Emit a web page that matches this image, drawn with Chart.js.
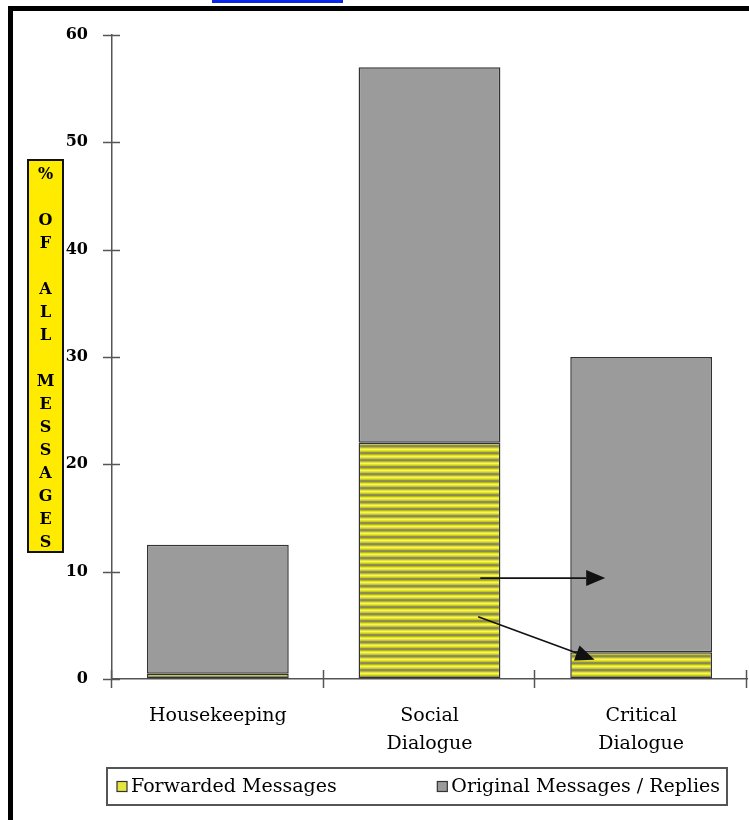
<!DOCTYPE html>
<html>
<head>
<meta charset="utf-8">
<script src="https://cdn.jsdelivr.net/npm/chart.js@4.4.1/dist/chart.umd.min.js"></script>
<style>
  html, body { margin: 0; padding: 0; background: #ffffff; }
  #wrap { width: 749px; height: 820px; position: relative; }
</style>
</head>
<body>
<div id="wrap"><canvas id="c" width="749" height="820"></canvas></div>
<script>
// Message categories and share of all messages (%)
const categories = ['Housekeeping', ['Social', 'Dialogue'], ['Critical', 'Dialogue']];
const forwarded = [0.5, 22, 2.5];
const original = [12, 35, 27.5];
const seriesNames = ['Forwarded Messages', 'Original Messages / Replies'];
const yTicks = [0, 10, 20, 30, 40, 50, 60];
const yTitleWords = ['%', 'OF', 'ALL', 'MESSAGES'];

// Annotation arrows in data units: [fromCategory, fromValue, toCategory, toValue]
const arrows = [
  [1.24, 9.4, 1.83, 9.4],
  [1.23, 5.8, 1.78, 1.8]
];

// Horizontal stripe fill for the forwarded series
function stripePattern() {
  const c = document.createElement('canvas');
  c.width = 8; c.height = 7;
  const g = c.getContext('2d');
  const rows = ['#e6e610', '#f2f27a', '#e6e610', '#c4c436', '#8e8e58', '#8a8a50', '#b4b43a'];
  rows.forEach((col, i) => { g.fillStyle = col; g.fillRect(0, i, 8, 1); });
  return g.createPattern(c, 'repeat');
}

const ctxMain = document.getElementById('c').getContext('2d');
const stripes = stripePattern();
const GRAY = '#9b9b9b';

const decor = {
  id: 'decor',
  beforeDraw(chart) {
    const ctx = chart.ctx;
    ctx.save();
    ctx.fillStyle = '#ffffff';
    ctx.fillRect(0, 0, chart.width, chart.height);
    // frame (top + left) and blue rule
    ctx.fillStyle = '#000000';
    ctx.fillRect(8, 6, chart.width - 8, 5);
    ctx.fillRect(8, 6, 5, chart.height - 6);
    ctx.fillStyle = '#0a26e8';
    ctx.fillRect(212, 0, 131, 3);
    ctx.restore();
  },
  afterDraw(chart) {
    const ctx = chart.ctx;
    const xs = chart.scales.x, ys = chart.scales.y;
    ctx.save();

    // tick marks crossing the axes
    ctx.strokeStyle = '#555555';
    ctx.lineWidth = 1.5;
    yTicks.forEach(v => {
      const py = Math.round(ys.getPixelForValue(v)) + 0.5;
      ctx.beginPath(); ctx.moveTo(xs.left - 9, py); ctx.lineTo(xs.left + 8, py); ctx.stroke();
    });
    const n = categories.length;
    const w = (xs.right - xs.left) / n;
    for (let i = 0; i <= n; i++) {
      const px = Math.round(xs.left + i * w) - 0.5;
      ctx.beginPath(); ctx.moveTo(px, ys.bottom - 9); ctx.lineTo(px, ys.bottom + 9); ctx.stroke();
    }

    // arrows
    ctx.strokeStyle = '#111111';
    ctx.fillStyle = '#111111';
    ctx.lineWidth = 1.6;
    const xpix = c => xs.left + (c + 0.5) * w;
    arrows.forEach(([c0, v0, c1, v1]) => {
      const x0 = xpix(c0), y0 = ys.getPixelForValue(v0);
      const x1 = xpix(c1), y1 = ys.getPixelForValue(v1);
      const a = Math.atan2(y1 - y0, x1 - x0);
      const hl = 19, hw = 8;
      const bx = x1 - hl * Math.cos(a), by = y1 - hl * Math.sin(a);
      ctx.beginPath(); ctx.moveTo(x0, y0); ctx.lineTo(bx, by); ctx.stroke();
      ctx.beginPath();
      ctx.moveTo(x1, y1);
      ctx.lineTo(bx + hw * Math.sin(a), by - hw * Math.cos(a));
      ctx.lineTo(bx - hw * Math.sin(a), by + hw * Math.cos(a));
      ctx.closePath(); ctx.fill();
    });

    // vertical axis title in a yellow box
    ctx.fillStyle = '#ffeb00';
    ctx.fillRect(28, 160, 35, 392);
    ctx.strokeStyle = '#111111';
    ctx.lineWidth = 2;
    ctx.strokeRect(28, 160, 35, 392);
    const lines = [];
    yTitleWords.forEach((wd, i) => { if (i) lines.push(''); wd.split('').forEach(ch => lines.push(ch)); });
    ctx.fillStyle = '#000000';
    ctx.font = 'bold 16px "DejaVu Serif"';
    ctx.textAlign = 'center';
    ctx.textBaseline = 'middle';
    lines.forEach((ch, i) => { if (ch) ctx.fillText(ch, 45.5, 175 + i * 23); });

    // legend
    const lb = { l: 107, t: 768, r: 727, b: 805 };
    ctx.strokeStyle = '#555555';
    ctx.lineWidth = 2;
    ctx.strokeRect(lb.l, lb.t, lb.r - lb.l, lb.b - lb.t);
    ctx.font = '19px "DejaVu Serif"';
    ctx.textAlign = 'left';
    const midY = (lb.t + lb.b) / 2;
    const ds = chart.data.datasets;
    const legendFill = ['#e6e640', GRAY];
    const sw = 10;
    const w2 = ctx.measureText(ds[1].label).width;
    const starts = [lb.l + 10, lb.r - 7 - w2 - sw - 4];
    ds.forEach((d, i) => {
      const sx = starts[i];
      ctx.fillStyle = legendFill[i];
      ctx.fillRect(sx, midY - 5, sw, sw);
      ctx.strokeStyle = '#333333';
      ctx.lineWidth = 1.2;
      ctx.strokeRect(sx, midY - 5, sw, sw);
      ctx.fillStyle = '#000000';
      ctx.fillText(d.label, sx + sw + 4, midY + 1);
    });
    ctx.restore();
  }
};

new Chart(ctxMain, {
  type: 'bar',
  data: {
    labels: categories,
    datasets: [
      { label: seriesNames[0], data: forwarded, backgroundColor: stripes,
        borderColor: '#333333', borderWidth: 1.5, borderSkipped: false },
      { label: seriesNames[1], data: original, backgroundColor: GRAY,
        borderColor: '#333333', borderWidth: 1.5, borderSkipped: false }
    ]
  },
  options: {
    responsive: false,
    animation: false,
    events: [],
    layout: { padding: { top: 35, right: 2, left: 0, bottom: 0 } },
    datasets: { bar: { categoryPercentage: 0.67, barPercentage: 1.0 } },
    plugins: { legend: { display: false }, tooltip: { enabled: false } },
    scales: {
      x: {
        stacked: true,
        afterFit(s) { s.height = 141; },
        grid: { display: true, drawOnChartArea: false, drawTicks: false },
        border: { display: true, color: '#555555', width: 1.5 },
        ticks: { color: '#000000', padding: 23, maxRotation: 0,
                 font: { family: '"DejaVu Serif"', size: 19, lineHeight: 28 / 19 } }
      },
      y: {
        stacked: true,
        min: 0, max: 60,
        afterFit(s) { s.width = 112; },
        afterBuildTicks(s) { s.ticks = yTicks.map(v => ({ value: v })); },
        grid: { display: true, drawOnChartArea: false, drawTicks: false },
        border: { display: true, color: '#555555', width: 1.5 },
        ticks: { color: '#000000', padding: 24,
                 font: { family: '"DejaVu Serif"', weight: 'bold', size: 16 } }
      }
    }
  },
  plugins: [decor]
});
</script>
</body>
</html>
